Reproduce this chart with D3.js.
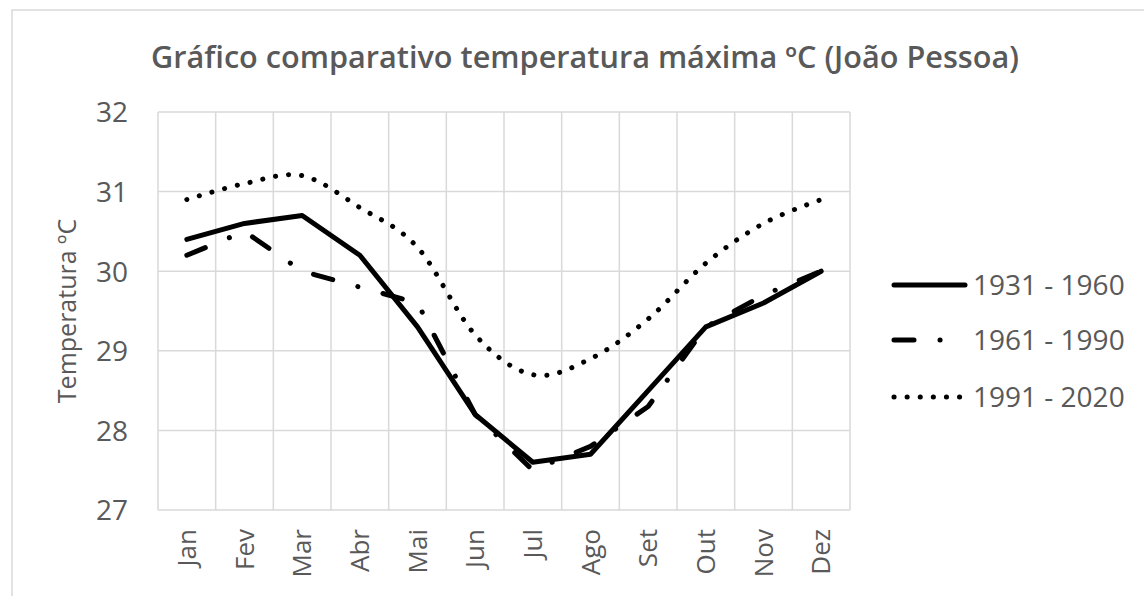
<!DOCTYPE html>
<html>
<head>
<meta charset="utf-8">
<script src="https://cdn.jsdelivr.net/npm/d3@7"></script>
<style>
  body { margin: 0; background: #fff; }
  text { font-family: "Open Sans", "Noto Sans", sans-serif; fill: #595959; }
</style>
</head>
<body>
<svg id="chart" width="1144" height="596"></svg>
<script>
// dados
var meses = ["Jan", "Fev", "Mar", "Abr", "Mai", "Jun", "Jul", "Ago", "Set", "Out", "Nov", "Dez"];
var periodos = ["1931 - 1960", "1961 - 1990", "1991 - 2020"];
var t1931 = [30.4, 30.6, 30.7, 30.2, 29.3, 28.2, 27.6, 27.7, 28.5, 29.3, 29.6, 30.0];
var t1961 = [30.2, 30.5, 30.0, 29.8, 29.6, 28.2, 27.5, 27.8, 28.3, 29.3, 29.7, 30.0];
var t1991 = [30.9, 31.1, 31.2, 30.8, 30.3, 29.2, 28.7, 28.9, 29.4, 30.1, 30.6, 30.9];
var yTicks = [27, 28, 29, 30, 31, 32];

var svg = d3.select("#chart");

// moldura do gráfico
svg.append("rect")
  .attr("x", 12).attr("y", 10)
  .attr("width", 1150).attr("height", 600)
  .attr("fill", "none").attr("stroke", "#d9d9d9").attr("stroke-width", 1.5);

var pLeft = 158, pRight = 850, pTop = 112, pBottom = 510;

var x = d3.scaleBand().domain(meses).range([pLeft, pRight]);
var y = d3.scaleLinear().domain([27, 32]).range([pBottom, pTop]);

// grade
var grid = svg.append("g").attr("stroke", "#d9d9d9").attr("stroke-width", 1.5);
grid.selectAll("line.h").data(yTicks).enter().append("line")
  .attr("x1", pLeft).attr("x2", pRight)
  .attr("y1", function(d) { return y(d); }).attr("y2", function(d) { return y(d); });
grid.selectAll("line.v").data(meses.concat(["fim"])).enter().append("line")
  .attr("x1", function(d, i) { return pLeft + i * x.bandwidth(); })
  .attr("x2", function(d, i) { return pLeft + i * x.bandwidth(); })
  .attr("y1", pTop).attr("y2", pBottom);

// eixo y
var yAxis = svg.append("g")
  .attr("transform", "translate(" + (pLeft - 30) + ",0)")
  .call(d3.axisLeft(y).tickValues(yTicks).tickFormat(d3.format("d")).tickSize(0).tickPadding(0));
yAxis.select(".domain").remove();
yAxis.selectAll("text").style("font-size", "28px").attr("dy", "0.35em");

// eixo x
var xAxis = svg.append("g")
  .attr("transform", "translate(0," + pBottom + ")")
  .call(d3.axisBottom(x).tickSize(0));
xAxis.select(".domain").remove();
xAxis.selectAll("text")
  .style("font-size", "26px")
  .attr("text-anchor", "end")
  .attr("transform", "translate(0,19) rotate(-90)")
  .attr("x", 0).attr("y", 0).attr("dy", "0.35em");

// título do eixo y
svg.append("text")
  .attr("transform", "translate(67," + ((pTop + pBottom) / 2) + ") rotate(-90)")
  .attr("text-anchor", "middle").attr("dy", "0.35em")
  .style("font-size", "25px")
  .text("Temperatura ºC");

// título
svg.append("text")
  .attr("x", 585).attr("y", 57)
  .attr("text-anchor", "middle").attr("dy", "0.35em")
  .style("font-size", "30px").style("font-weight", "600")
  .attr("textLength", 868).attr("lengthAdjust", "spacingAndGlyphs")
  .text("Gráfico comparativo temperatura máxima ºC (João Pessoa)");

var estilos = [
  { dados: t1931, dash: null, curva: d3.curveLinear },
  { dados: t1961, dash: "20,26,0.1,26", curva: d3.curveLinear },
  { dados: t1991, dash: "0.1,13", curva: d3.curveCardinal.tension(0) }
];

estilos.forEach(function(s) {
  var linha = d3.line()
    .x(function(d, i) { return x(meses[i]) + x.bandwidth() / 2; })
    .y(function(d) { return y(d); })
    .curve(s.curva);
  svg.append("path")
    .datum(s.dados)
    .attr("d", linha)
    .attr("fill", "none")
    .attr("stroke", "#000")
    .attr("stroke-width", 5)
    .attr("stroke-linecap", "round")
    .attr("stroke-linejoin", "round")
    .attr("stroke-dasharray", s.dash);
});

// legenda
var legY = [285, 340, 397];
var leg = svg.append("g");
periodos.forEach(function(p, i) {
  leg.append("line")
    .attr("x1", 894).attr("x2", 965)
    .attr("y1", legY[i]).attr("y2", legY[i])
    .attr("stroke", "#000").attr("stroke-width", 5)
    .attr("stroke-linecap", "round")
    .attr("stroke-dasharray", estilos[i].dash);
  leg.append("text")
    .attr("x", 973).attr("y", legY[i]).attr("dy", "0.35em")
    .style("font-size", "28px")
    .text(p);
});
</script>
</body>
</html>
